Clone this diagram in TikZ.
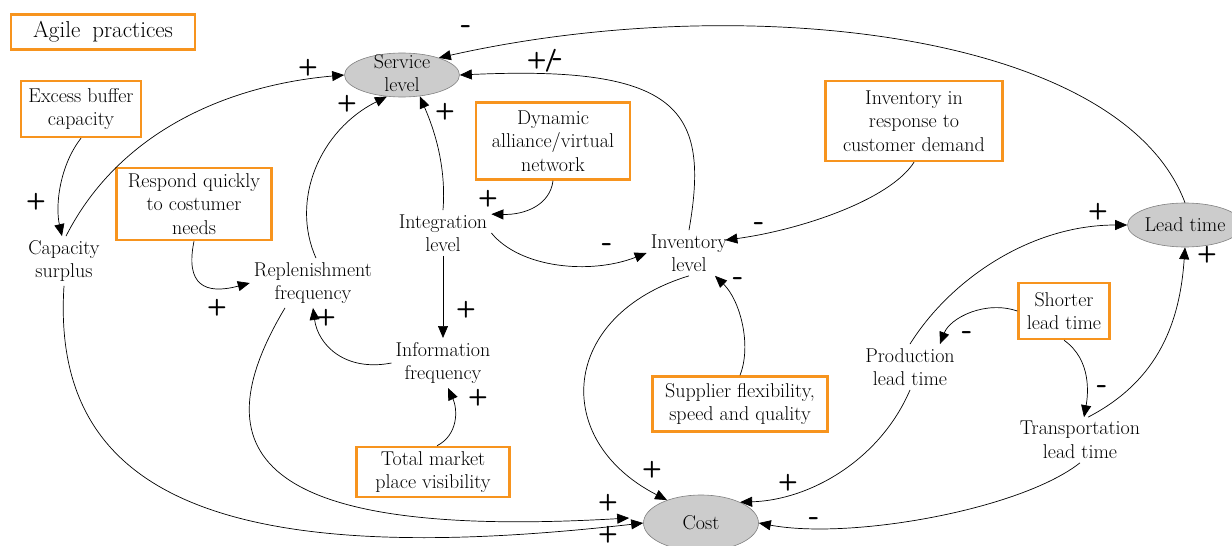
\documentclass[tikz,border=0pt]{standalone}
\usepackage{amsmath,amssymb}
\usetikzlibrary{arrows.meta,shapes.geometric}
\definecolor{agileorange}{RGB}{247,148,30}
\definecolor{nodegray}{RGB}{204,204,204}
\tikzset{
  var/.style={align=center, inner sep=4pt, font=\fontsize{20}{23.5}\selectfont},
  agile/.style={var, draw=agileorange, line width=2.5pt},
  keyvar/.style={ellipse, draw=black!50, fill=nodegray, inner sep=0pt, line width=0.6pt},
  link/.style={-{Triangle[length=12pt,width=10pt]}, line width=0.7pt},
  sign/.style={font=\fontsize{23}{23}\selectfont\sffamily\bfseries, inner sep=0pt}
}
\begin{document}
\begin{tikzpicture}[x=1pt,y=-1pt]
        \useasboundingbox (0,0) rectangle (1232,546);
        \node[keyvar, minimum width=115pt, minimum height=44pt] (srv) at (402,75) {};
        \node[var] (srvtext) at (402,73) {Service\\level};
        \node[keyvar, minimum width=115pt, minimum height=44pt] (lt) at (1185,225) {};
        \node[var] (lttext) at (1185,225) {Lead time};
        \node[keyvar, minimum width=115pt, minimum height=56pt] (cost) at (701,523) {};
        \node[var] (costtext) at (701,523) {Cost};
        \node[agile, minimum width=184pt, minimum height=35pt, font=\fontsize{23}{26}\selectfont] (agl) at (103,32) {Agile\hspace{5pt} practices};
        \node[agile, minimum width=120pt, minimum height=56pt] (exc) at (81,109) {Excess buffer\\capacity};
        \node[agile, minimum width=155pt, minimum height=72pt] (rsp) at (194,204) {Respond quickly\\to costumer\\needs};
        \node[agile, minimum width=154pt, minimum height=77pt] (dyn) at (553,141) {Dynamic\\alliance/virtual\\network};
        \node[agile, minimum width=177pt, minimum height=80pt] (irc) at (914,121) {Inventory in\\response to\\customer demand};
        \node[agile, minimum width=153pt, minimum height=50pt] (tmv) at (433,472) {Total market\\place visibility};
        \node[agile, minimum width=175pt, minimum height=55pt] (sup) at (740,404) {Supplier flexibility,\\speed and quality};
        \node[agile, minimum width=91pt, minimum height=56pt] (slt) at (1064,311) {Shorter\\lead time};
        \node[var] (cap) at (64,261) {Capacity\\surplus};
        \node[var] (int) at (443,233) {Integration\\level};
        \node[var] (rep) at (313,283) {Replenishment\\frequency};
        \node[var] (inv) at (689,253) {Inventory\\level};
        \node[var] (info) at (443,363) {Information\\frequency};
        \node[var] (prd) at (910,367) {Production\\lead time};
        \node[var] (trn) at (1080,440) {Transportation\\lead time};
        \draw[link] (exc.south) .. controls (60,165) and (55,205) .. ([xshift=-2pt]cap.north);
        \draw[link] ([xshift=2pt]cap.north) .. controls (120,130) and (230,85) .. (srv.west);
        \draw[link] ([xshift=3pt]rep.north) .. controls (290,200) and (320,130) .. (srv.235);
        \draw[link] (int.north) .. controls (447,160) and (430,120) .. (srv.310);
        \draw[link] (inv.north) .. controls (710,110) and (680,65) .. (srv.east);
        \draw[link] (lt.north) .. controls (1120,30) and (740,-10) .. (srv.25);
        \draw[link] (dyn.south) .. controls (550,205) and (525,215) .. ([yshift=-4pt]int.north east);
        \draw[link] (int.east) .. controls (520,268) and (590,275) .. (inv.west);
        \draw[link] (int.south) -- (info.north);
        \draw[link] (info.west) .. controls (345,372) and (318,345) .. (rep.south);
        \draw[link] (rsp.south) .. controls (185,285) and (205,295) .. (rep.west);
        \draw[link] ([xshift=4pt]tmv.north) .. controls (458,435) and (458,410) .. ([xshift=5pt]info.south);
        \draw[link] (irc.south) .. controls (890,200) and (800,230) .. ([xshift=-6pt,yshift=-10pt]inv.north east);
        \draw[link] (sup.north) .. controls (752,345) and (740,300) .. ([xshift=26pt]inv.south);
        \draw[link] (inv.south) .. controls (560,315) and (550,440) .. (cost.146);
        \draw[link] ([xshift=-28pt]rep.south) .. controls (200,450) and (250,540) .. ([xshift=-14pt,yshift=5pt]cost.west);
        \draw[link] (cap.south) .. controls (50,500) and (230,570) .. (cost.west);
        \draw[link] (prd.south) .. controls (880,460) and (810,500) .. (cost.28);
        \draw[link] (prd.north) .. controls (950,280) and (1030,225) .. (lt.west);
        \draw[link] ([xshift=8pt]trn.north) .. controls (1160,380) and (1180,320) .. (lt.south);
        \draw[link] (slt.west) .. controls (985,300) and (950,318) .. ([xshift=30pt]prd.north);
        \draw[link] (slt.south) .. controls (1092,360) and (1088,395) .. ([xshift=4pt]trn.north);
        \draw[link] (trn.south) .. controls (1020,510) and (850,540) .. (cost.east);
        \foreach \x/\y [count=\i] in {308/68, 347/104, 445/112, 36/202, 488/199, 1098/212, 1207/255, 217/308,
            326/318, 466/310, 478/398, 608/503, 608/535, 652/470, 788/483}
          \node[sign] (plus\i) at (\x,\y) {+};
        \foreach \x/\y [count=\i] in {466/30, 607/248, 759/227, 738/282, 967/336, 1102/390, 814/522}
          \node[sign, font=\fontsize{30}{30}\selectfont\sffamily\bfseries] (minus\i) at (\x,\y) {-};
        \node[sign] (plusminus) at (545,61) {+\kern-2pt/\kern-5pt{\fontsize{30}{30}\selectfont-}};
      \end{tikzpicture}
\end{document}
